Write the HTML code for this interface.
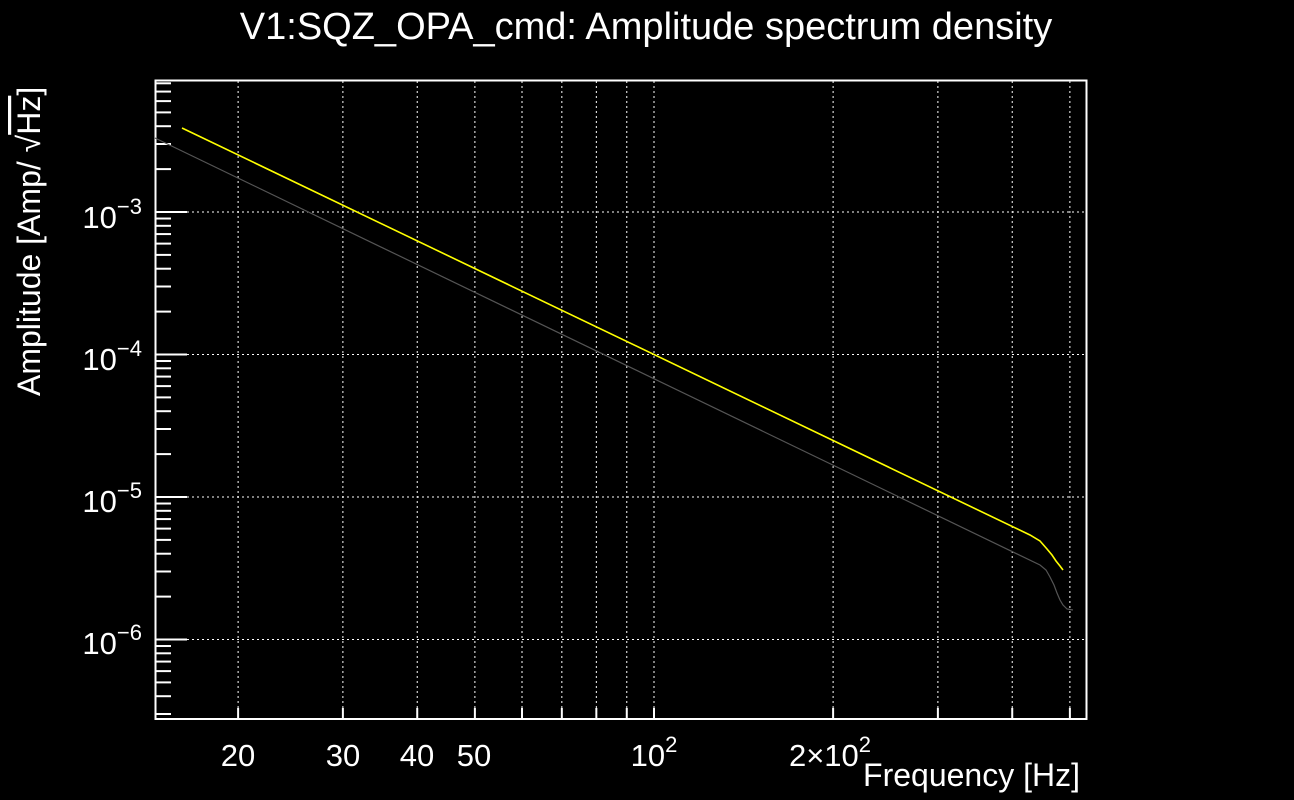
<!DOCTYPE html>
<html><head><meta charset="utf-8"><style>
html,body{margin:0;padding:0;background:#000;}
svg{display:block;font-family:"Liberation Sans",sans-serif;}
</style></head><body>
<svg id="s" width="1294" height="800" xmlns="http://www.w3.org/2000/svg">
<rect width="1294" height="800" fill="#000"/>
<g id="grid" stroke="#fff" stroke-width="1" stroke-dasharray="2,3"></g>
<g id="ticks" stroke="#fff" stroke-width="2"></g>
<rect x="155.5" y="80.5" width="931" height="638.5" fill="none" stroke="#fff" stroke-width="2"/>
<polyline fill="none" stroke="#555" stroke-width="1.2" points="155,138 1040,565 1046,570 1050,577 1054,585 1057,593 1060,600 1063,605 1067,609 1073,610"/>
<polyline fill="none" stroke="#ffff00" stroke-width="1.6" points="182,128 1030,535 1040,541 1047,549 1052,555 1056,561 1060,566 1063,570"/>
<g fill="#fff" font-size="31">
<text x="646" y="39" text-anchor="middle" font-size="38">V1:SQZ_OPA_cmd: Amplitude spectrum density</text>
<text x="238" y="766" text-anchor="middle">20</text>
<text x="343" y="766" text-anchor="middle">30</text>
<text x="417" y="766" text-anchor="middle">40</text>
<text x="474" y="766" text-anchor="middle">50</text>
<text x="654" y="766" text-anchor="middle">10<tspan font-size="22" dy="-14">2</tspan></text>
<text x="830" y="766" text-anchor="middle">2×10<tspan font-size="22" dy="-14">2</tspan></text>
<text x="1080" y="786" text-anchor="end" font-size="32">Frequency [Hz]</text>
<text x="142" y="228" text-anchor="end">10<tspan font-size="22" dy="-14">−3</tspan></text>
<text x="142" y="370" text-anchor="end">10<tspan font-size="22" dy="-14">−4</tspan></text>
<text x="142" y="512" text-anchor="end">10<tspan font-size="22" dy="-14">−5</tspan></text>
<text x="142" y="654" text-anchor="end">10<tspan font-size="22" dy="-14">−6</tspan></text>
<text transform="translate(40,396) rotate(-90)" font-size="32">Amplitude [Amp/ √<tspan text-decoration="overline">Hz</tspan>]</text>
</g>
</svg>
<script>
var ns="http://www.w3.org/2000/svg",g=document.getElementById('grid'),t=document.getElementById('ticks');
function L(p,x1,y1,x2,y2){var l=document.createElementNS(ns,'line');l.setAttribute('x1',x1);l.setAttribute('y1',y1);l.setAttribute('x2',x2);l.setAttribute('y2',y2);p.appendChild(l);}
function X(f){return 654+(Math.log10(f)-2)*595;}
function Y(v){return 212-(Math.log10(v)+3)*142.5;}
[20,30,40,50,60,70,80,90,100,200,300,400,500].forEach(function(f){var x=X(f);L(g,x,81,x,718);L(t,x,719,x,708);});
for(var e=-7;e<=-2;e++){for(var m=1;m<10;m++){var v=m*Math.pow(10,e),y=Y(v);if(y<82||y>717)continue;var len=m==1?31:15;L(t,156,y,156+len,y);if(m==1)L(g,187,y,1085,y);}}
</script>
</body></html>
